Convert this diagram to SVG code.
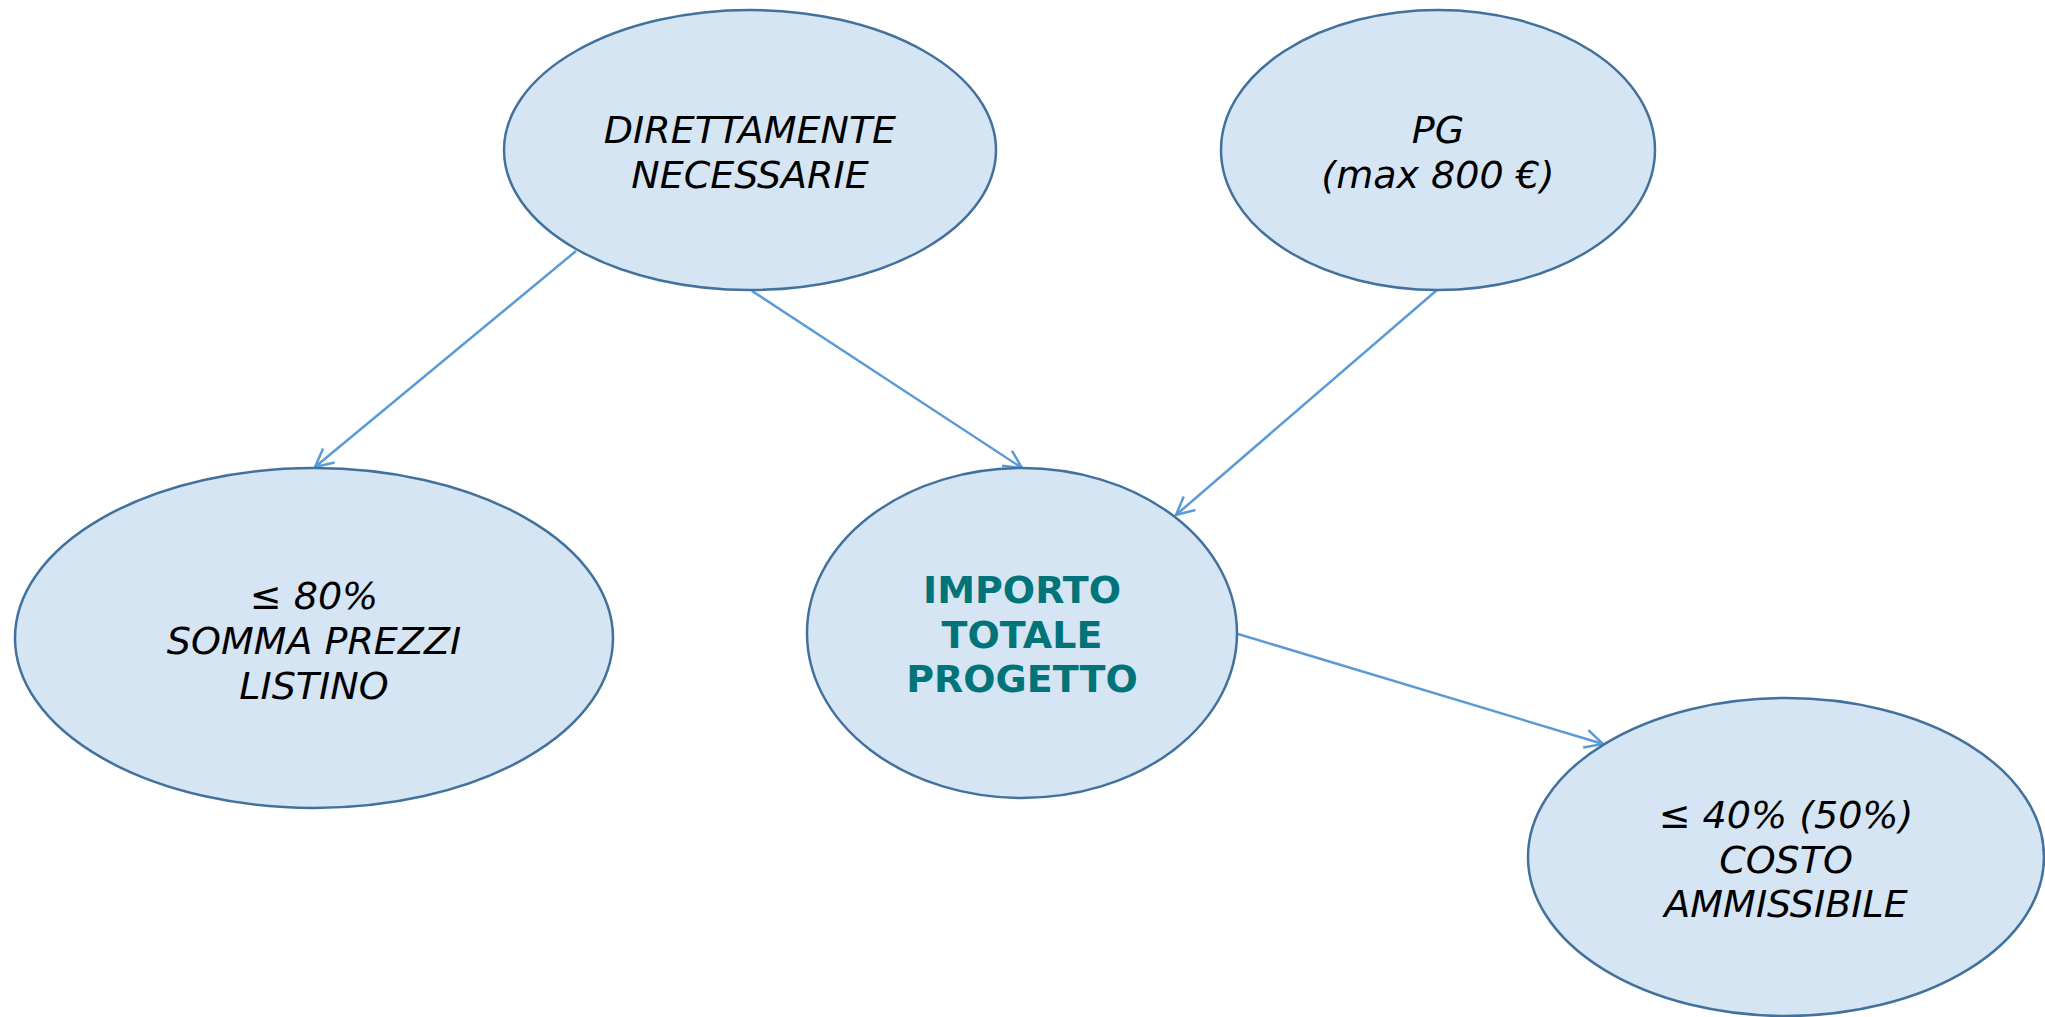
<svg xmlns="http://www.w3.org/2000/svg" width="2045" height="1017" viewBox="0 0 2045 1017">
<style>
.node ellipse{fill:#d6e5f4;stroke:#41719c;stroke-width:2.5}
.lbl{font-family:"DejaVu Sans",Verdana,sans-serif;font-size:38px;font-style:italic;fill:#000;text-anchor:middle}
.main{font-family:"DejaVu Sans",Verdana,sans-serif;font-size:38px;font-weight:bold;fill:#007478;text-anchor:middle}
.edge{stroke:#5b9bd5;stroke-width:2.5;fill:none;marker-end:url(#arr)}
</style>
<defs>
<marker id="arr" markerUnits="userSpaceOnUse" markerWidth="24" markerHeight="22" refX="19" refY="10" orient="auto" viewBox="0 0 24 22">
<path d="M1,1 L19,10 L1,19" fill="none" stroke="#5b9bd5" stroke-width="2.5"/>
</marker>
</defs>
<rect width="2045" height="1017" fill="#fff"/>
<g id="connectors">
<line class="edge" x1="576" y1="251" x2="315" y2="467"/>
<line class="edge" x1="752" y1="291" x2="1022" y2="468"/>
<line class="edge" x1="1437" y1="290" x2="1176" y2="515"/>
<line class="edge" x1="1238" y1="634" x2="1603" y2="744"/>
</g>
<g id="n-direttamente" class="node">
<ellipse cx="750" cy="150" rx="246" ry="140"/>
<text class="lbl" x="750" y="143">DIRETTAMENTE</text>
<text class="lbl" x="750" y="188">NECESSARIE</text>
</g>
<g id="n-pg" class="node">
<ellipse cx="1438" cy="150" rx="217" ry="140"/>
<text class="lbl" x="1438" y="143">PG</text>
<text class="lbl" x="1438" y="188">(max 800 €)</text>
</g>
<g id="n-80" class="node">
<ellipse cx="314" cy="638" rx="299" ry="170"/>
<text class="lbl" x="314" y="609">≤ 80%</text>
<text class="lbl" x="314" y="654">SOMMA PREZZI</text>
<text class="lbl" x="314" y="699">LISTINO</text>
</g>
<g id="n-importo" class="node">
<ellipse cx="1022" cy="633" rx="215" ry="165"/>
<text class="main" x="1022" y="603">IMPORTO</text>
<text class="main" x="1022" y="648">TOTALE</text>
<text class="main" x="1022" y="692">PROGETTO</text>
</g>
<g id="n-40" class="node">
<ellipse cx="1786" cy="857" rx="258" ry="159"/>
<text class="lbl" x="1786" y="828">≤ 40% (50%)</text>
<text class="lbl" x="1786" y="873">COSTO</text>
<text class="lbl" x="1786" y="917">AMMISSIBILE</text>
</g>
</svg>
